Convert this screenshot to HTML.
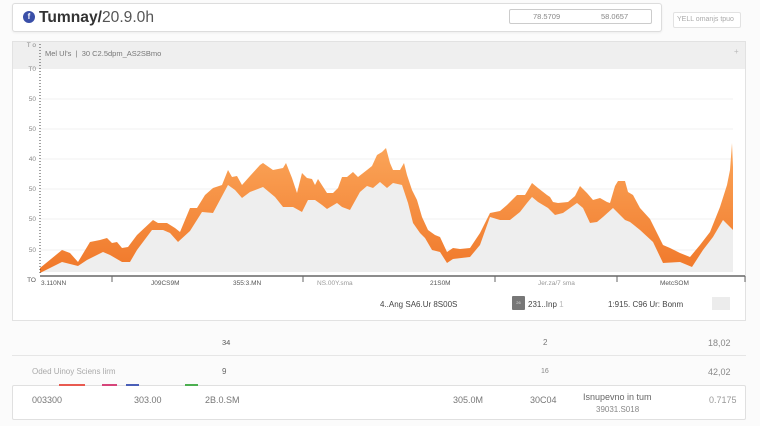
<!DOCTYPE html>
<html><head><meta charset="utf-8">
<style>
*{margin:0;padding:0;box-sizing:border-box}
html,body{width:760px;height:426px;overflow:hidden;background:#fbfbfb;font-family:"Liberation Sans",sans-serif;color:#555}
.a{position:absolute;white-space:nowrap}
.s{font-size:8px;color:#666}
</style></head><body>
<!-- title box -->
<div class="a" style="left:12px;top:3px;width:650px;height:29px;background:#fff;border:1px solid #ddd;border-radius:3px;box-shadow:0 1px 2px rgba(0,0,0,0.06)"></div>
<div class="a" style="left:23px;top:11px;width:12px;height:12px;border-radius:50%;background:#3a4fa8;color:#fff;font-size:8px;line-height:12px;text-align:center;font-weight:bold">f</div>
<div class="a" style="left:39px;top:8px;font-size:15.6px;line-height:19px;color:#333"><b>Tumnay/</b><span style="color:#555">20.9.0h</span></div>
<div class="a" style="left:509px;top:9px;width:143px;height:15px;border:1px solid #ccc;border-radius:2px;background:#fff"></div>
<div class="a s" style="left:533px;top:12px;color:#888;font-size:7.5px">78.5709</div>
<div class="a s" style="left:601px;top:12px;color:#888;font-size:7.5px">58.0657</div>
<div class="a" style="left:673px;top:12px;width:68px;height:16px;border:1px solid #e2e2e2;border-radius:2px;background:#fff"></div>
<div class="a" style="left:677px;top:16px;font-size:7px;color:#aaa">YELL omanjs tpuo</div>

<!-- chart card -->
<div class="a" style="left:12px;top:41px;width:734px;height:280px;background:#fff;border:1px solid #e2e2e2"></div>
<div class="a" style="left:13px;top:42px;width:732px;height:27px;background:#efefef"></div>
<div class="a s" style="left:45px;top:49px;font-size:7.5px;color:#777">Mel Ul's &nbsp;|&nbsp; 30 C2.5dpm_AS2SBmo</div>
<div class="a" style="left:734px;top:47px;font-size:8px;color:#bbb">+</div>

<svg class="a" style="left:0;top:0" width="760" height="426" viewBox="0 0 760 426">
<defs>
<linearGradient id="og" x1="0" y1="0" x2="0" y2="1">
<stop offset="0" stop-color="#fba65a"/>
<stop offset="1" stop-color="#f0782a"/>
</linearGradient>
</defs>
<g stroke="#f0f0f0" stroke-width="1">
<line x1="40" y1="99" x2="733" y2="99"/>
<line x1="40" y1="129" x2="733" y2="129"/>
<line x1="40" y1="159" x2="733" y2="159"/>
<line x1="40" y1="189" x2="733" y2="189"/>
<line x1="40" y1="219" x2="733" y2="219"/>
<line x1="40" y1="250" x2="733" y2="250"/>
</g>
<polygon fill="#eeeeee" points="733,230 723,220 713,237 703,250 692,267 680,262 663,263 653,242 640,230 630,222 625,220 613,208 603,217 597,222 590,223 583,208 577,203 563,213 555,215 548,208 538,202 532,197 527,203 520,212 510,220 500,220 490,217 480,245 470,257 453,259 447,263 440,252 432,250 425,238 420,233 413,223 408,203 402,185 393,183 387,188 380,182 373,188 367,186 360,192 350,210 342,207 337,203 327,209 322,205 315,200 308,200 302,212 293,207 283,207 275,197 263,187 250,192 242,198 235,190 228,185 213,213 202,212 190,231 178,242 170,233 163,230 152,230 137,250 130,262 122,262 110,255 103,252 87,260 78,266 62,262 40,273 40,272 733,272"/>
<polygon fill="url(#og)" points="40,268 62,250 70,253 78,262 90,242 100,240 107,238 112,243 117,242 122,248 128,247 137,235 153,220 158,223 167,223 175,228 180,232 190,208 197,208 205,195 213,188 222,185 228,170 232,177 237,176 242,185 250,176 260,165 263,163 273,170 283,168 286,163 292,178 297,193 302,173 307,178 312,179 315,185 318,179 327,193 333,193 338,188 342,177 347,177 353,172 358,177 367,170 372,166 377,155 382,152 386,148 390,163 393,170 400,170 404,163 407,175 412,190 417,200 422,217 428,230 435,235 440,237 447,252 453,248 460,249 470,248 480,233 490,213 500,211 507,205 517,195 525,195 532,183 538,188 547,195 550,197 553,202 558,203 568,202 575,196 580,186 587,193 593,200 600,198 607,202 610,203 615,186 618,181 625,181 628,192 633,195 640,208 650,219 663,245 670,248 680,253 690,257 700,245 710,232 720,207 727,185 730,170 732,143 733,167 733,230 723,220 713,237 703,250 692,267 680,262 663,263 653,242 640,230 630,222 625,220 613,208 603,217 597,222 590,223 583,208 577,203 563,213 555,215 548,208 538,202 532,197 527,203 520,212 510,220 500,220 490,217 480,245 470,257 453,259 447,263 440,252 432,250 425,238 420,233 413,223 408,203 402,185 393,183 387,188 380,182 373,188 367,186 360,192 350,210 342,207 337,203 327,209 322,205 315,200 308,200 302,212 293,207 283,207 275,197 263,187 250,192 242,198 235,190 228,185 213,213 202,212 190,231 178,242 170,233 163,230 152,230 137,250 130,262 122,262 110,255 103,252 87,260 78,266 62,262 40,273"/>
<line x1="40" y1="44" x2="40" y2="274" stroke="#444" stroke-width="1" stroke-dasharray="1,2"/>
<line x1="40" y1="276" x2="745" y2="276" stroke="#666" stroke-width="1.5"/>
<g stroke="#666" stroke-width="1">
<line x1="112" y1="276" x2="112" y2="282"/>
<line x1="303" y1="276" x2="303" y2="282"/>
<line x1="495" y1="276" x2="495" y2="282"/>
<line x1="617" y1="276" x2="617" y2="282"/>
<line x1="745" y1="276" x2="745" y2="282"/>
</g>
<g font-family="Liberation Sans, sans-serif" font-size="6.5" fill="#888" text-anchor="end">
<text x="36" y="47">T o</text>
<text x="36" y="71">T0</text>
<text x="36" y="101">50</text>
<text x="36" y="131">50</text>
<text x="36" y="161">40</text>
<text x="36" y="191">50</text>
<text x="36" y="221">50</text>
<text x="36" y="252">50</text>
<text x="36" y="282" fill="#555">TO</text>
</g>
<g font-family="Liberation Sans, sans-serif" font-size="6.5" fill="#555">
<text x="41" y="285">3.110NN</text>
<text x="151" y="285">J09CS9M</text>
<text x="233" y="285">355:3.MN</text>
<text x="317" y="285" fill="#999">NS.00Y.sma</text>
<text x="430" y="285">21S0M</text>
<text x="538" y="285" fill="#999">Jer.za/7 sma</text>
<text x="660" y="285">MetcSOM</text>
</g>
</svg>

<!-- legend row under chart -->
<div class="a s" style="left:380px;top:300px;font-size:8px;color:#444">4..Ang SA6.Ur 8S00S</div>
<div class="a" style="left:512px;top:296px;width:13px;height:14px;background:#777;border-radius:1px;color:#ddd;font-size:4px;line-height:14px;text-align:center">26</div>
<div class="a s" style="left:528px;top:300px;font-size:8px;color:#444">231..Inp <span style="color:#bbb">1</span></div>
<div class="a s" style="left:608px;top:300px;font-size:8px;color:#444">1:915. C96 Ur: Bonm</div>
<div class="a" style="left:712px;top:297px;width:18px;height:13px;background:#ececec"></div>

<!-- rows -->
<div class="a" style="left:12px;top:355px;width:734px;height:1px;background:#e6e6e6"></div>
<div class="a s" style="left:222px;top:338px;font-size:7.5px;color:#555">34</div>
<div class="a s" style="left:543px;top:338px;font-size:8px;color:#777">2</div>
<div class="a s" style="left:708px;top:338px;font-size:9px;color:#888">18,02</div>
<div class="a s" style="left:32px;top:367px;font-size:8px;color:#aaa">Oded Uinoy Sciens lirm</div>
<div class="a s" style="left:222px;top:367px;font-size:8px;color:#666">9</div>
<div class="a s" style="left:541px;top:368px;font-size:7px;color:#888">16</div>
<div class="a s" style="left:708px;top:367px;font-size:9px;color:#888">42,02</div>

<!-- bottom box -->
<div class="a" style="left:12px;top:385px;width:734px;height:35px;background:#fff;border:1px solid #e0e0e0;border-radius:2px"></div>
<div class="a" style="left:59px;top:384px;width:26px;height:2px;background:#e85a50"></div>
<div class="a" style="left:102px;top:384px;width:15px;height:2px;background:#d6457a"></div>
<div class="a" style="left:126px;top:384px;width:13px;height:2px;background:#4a5fb8"></div>
<div class="a" style="left:185px;top:384px;width:13px;height:2px;background:#4caf50"></div>
<div class="a s" style="left:32px;top:395px;font-size:9px;color:#777">003300</div>
<div class="a s" style="left:134px;top:395px;font-size:9px;color:#777">303.00</div>
<div class="a s" style="left:205px;top:395px;font-size:9px;color:#777">2B.0.SM</div>
<div class="a s" style="left:453px;top:395px;font-size:9px;color:#777">305.0M</div>
<div class="a s" style="left:530px;top:395px;font-size:9px;color:#777">30C04</div>
<div class="a s" style="left:583px;top:392px;font-size:9px;color:#666">Isnupevno in tum</div>
<div class="a s" style="left:596px;top:405px;font-size:8px;color:#888">39031.S018</div>
<div class="a s" style="left:709px;top:395px;font-size:9px;color:#999">0.7175</div>
</body></html>
